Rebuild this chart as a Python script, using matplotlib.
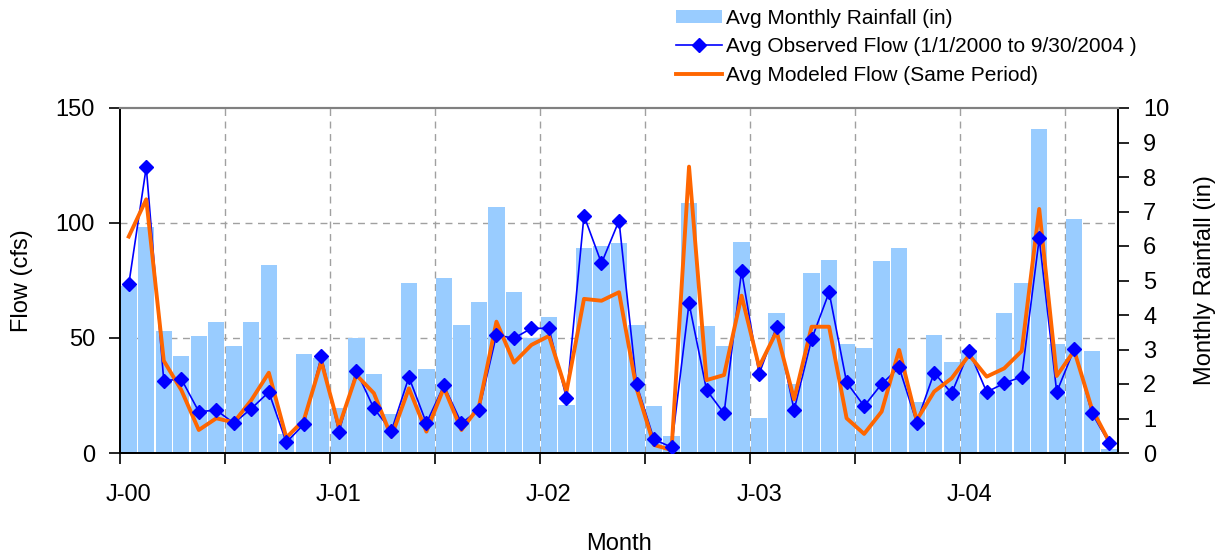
import numpy as np
import matplotlib
matplotlib.use("Agg")
import matplotlib.pyplot as plt
from matplotlib.patches import Patch
from matplotlib.lines import Line2D

plt.rcParams['font.family'] = ['Liberation Sans', 'DejaVu Sans']

# monthly data, Jan 2000 .. Sep 2004
rain = [4.85, 6.55, 3.55, 2.80, 3.40, 3.80, 3.10, 3.80, 5.45, 0.55,
        2.87, 2.75, 1.30, 3.33, 2.29, 1.13, 4.93, 2.43, 5.07, 3.71,
        4.38, 7.13, 4.67, 3.33, 3.94, 1.39, 5.94, 6.00, 6.09, 3.71,
        1.36, 0.49, 7.25, 3.68, 3.10, 6.12, 1.01, 4.06, 2.00, 5.22,
        5.59, 3.16, 3.04, 5.57, 5.94, 1.48, 3.42, 2.64, 2.99, 1.75,
        4.06, 4.93, 9.39, 3.16, 6.78, 2.96, 0.12]
observed = [73.3, 124.3, 31.4, 32.2, 18.0, 18.6, 13.0, 19.3, 26.5, 4.6,
            12.5, 42.2, 9.0, 35.7, 19.4, 9.6, 33.0, 13.0, 29.4, 13.0,
            18.7, 51.3, 49.9, 54.2, 54.2, 23.8, 103.2, 82.5, 101.0, 30.0,
            5.9, 2.5, 65.1, 27.4, 17.2, 79.1, 34.3, 54.9, 18.7, 49.4,
            69.9, 30.7, 20.4, 30.0, 37.2, 13.2, 34.9, 26.0, 44.3, 26.5,
            30.3, 33.2, 93.3, 26.5, 45.2, 17.5, 4.2]
modeled = [94.1, 110.3, 40.1, 27.4, 10.0, 15.1, 13.3, 23.0, 34.9, 6.7,
           14.3, 39.7, 11.4, 33.9, 26.0, 7.1, 28.1, 9.3, 28.4, 10.0,
           20.1, 57.1, 39.3, 47.0, 50.9, 26.7, 67.0, 66.2, 69.9, 28.1,
           3.5, 1.3, 124.5, 31.7, 33.9, 68.4, 37.5, 52.8, 23.3, 54.9,
           54.9, 15.1, 8.3, 18.0, 44.8, 14.3, 26.7, 32.5, 42.6, 33.2,
           36.8, 44.3, 106.1, 33.5, 44.5, 19.4, 4.9]
year_labels = ['J-00', 'J-01', 'J-02', 'J-03', 'J-04']

n = len(rain)
x = np.arange(n) + 0.5
flow_max, rain_max = 150, 10

fig = plt.figure(figsize=(12.28, 5.57), dpi=100)
ax = fig.add_axes([120/1228, 1-453/557, 998/1228, 345/557])
ax2 = ax.twinx()
ax.set_zorder(2)
ax2.set_zorder(1)
ax.patch.set_visible(False)

# rainfall bars on the right axis
ax2.bar(x, rain, width=0.93, color='#99CCFF', zorder=2)
ax2.set_ylim(0, rain_max)
ax2.set_yticks(range(0, 11))
ax2.set_ylabel('Monthly Rainfall (in)', fontsize=17, labelpad=18)

# grid lines (behind bars)
grid_kw = dict(color='#a0a0a0', linestyle=(0, (5, 4)), linewidth=1.0, zorder=0)
for v in [50, 100]:
    ax2.axhline(v * rain_max / flow_max, **grid_kw)
for m in range(6, n, 6):
    ax2.axvline(m, **grid_kw)

# flow lines on the left axis
ax.plot(x, modeled, color='#FF6600', linewidth=2.8, zorder=3)
ax.plot(x, observed, color='#0000FF', linewidth=1.2, zorder=2)
ax.plot(x, observed, linestyle='none', marker='D', markersize=7.5,
        color='#0000FF', zorder=4)
ax.set_ylim(0, flow_max)
ax.set_yticks([0, 50, 100, 150])
ax.set_xlim(0, n)
ax.set_ylabel('Flow (cfs)', fontsize=17, labelpad=16)
ax.set_xlabel('Month', fontsize=17, labelpad=20)

ax.set_xticks(range(0, n, 6))
ax.set_xticklabels([])
ax.set_xticks([m + 0.5 for m in range(0, n, 12)], minor=True)
ax.set_xticklabels(year_labels, minor=True)
ax.tick_params(axis='x', which='major', direction='out', length=8, width=1.2)
ax.tick_params(axis='x', which='minor', length=0, pad=22, labelsize=17)
ax.tick_params(axis='y', direction='out', length=8, width=1.2, pad=10, labelsize=17)
ax2.tick_params(axis='y', direction='out', length=8, width=1.2, pad=10, labelsize=17)

for a in (ax, ax2):
    a.spines['top'].set_color('#808080')
    a.spines['top'].set_linewidth(1.5)
    for s in ('left', 'right', 'bottom'):
        a.spines[s].set_linewidth(1.3)

handles = [Patch(facecolor='#99CCFF'),
           Line2D([], [], color='#0000FF', linewidth=1.2, marker='D', markersize=7.5),
           Line2D([], [], color='#FF6600', linewidth=2.8)]
labels = ['Avg Monthly Rainfall (in)',
          'Avg Observed Flow (1/1/2000 to 9/30/2004 )',
          'Avg Modeled Flow (Same Period)']
fig.legend(handles, labels, loc='upper left', bbox_to_anchor=(676/1228, 1-9/557),
           frameon=False, fontsize=15, borderpad=0, borderaxespad=0,
           handlelength=2.2, handletextpad=0.2, labelspacing=0.45,
           handleheight=0.6)

fig.savefig('out.png', dpi=100)
